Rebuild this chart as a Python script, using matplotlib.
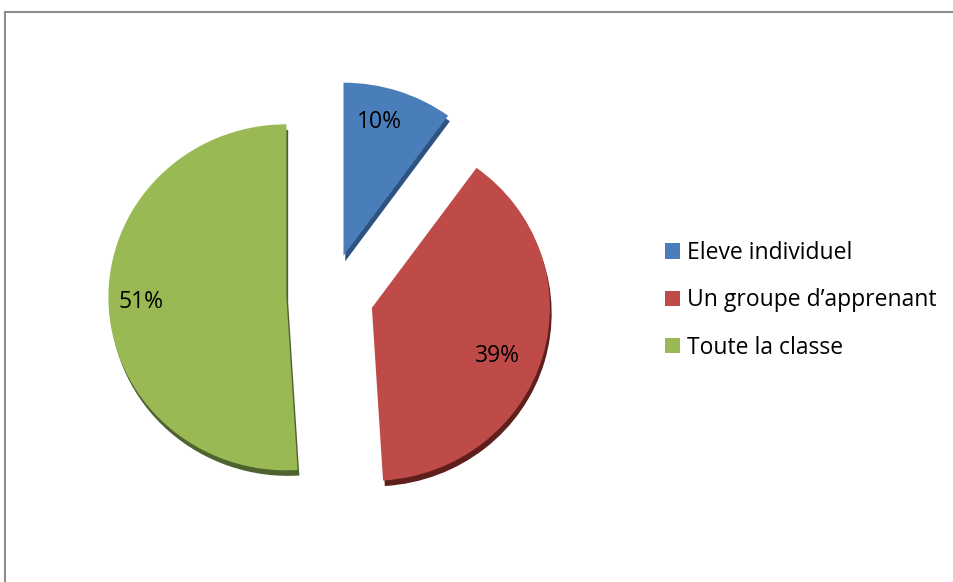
import numpy as np
import matplotlib
matplotlib.use("Agg")
import matplotlib.pyplot as plt
from matplotlib.patches import Rectangle

categories = ["Eleve individuel", "Un groupe d\u2019apprenant", "Toute la classe"]
values = [10, 39, 51]
colors = ["#4A7EBB", "#BE4B48", "#98B954"]
shadow_colors = ["#2E5282", "#5E1F1D", "#4F6330"]

W, H = 954, 582
fig = plt.figure(figsize=(W / 100, H / 100), dpi=100)
plt.rcParams["font.family"] = ["Open Sans", "DejaVu Sans"]

# outer chart-area frame (left and top edges visible)
fig.patches.append(Rectangle((5 / W, -0.1), 1.2, 1.1 - 12 / H, transform=fig.transFigure,
                             fill=False, edgecolor="#8C8C8C", linewidth=1.5))

# pie axes: centre ~(330, 296) px, radius ~178 px wide, 173 px tall
cx, cy, rx, ry = 330, 296, 178, 173
span = 1.5
left = (cx - span * rx) / W
bottom = (H - (cy + span * ry)) / H
ax = fig.add_axes([left, bottom, 2 * span * rx / W, 2 * span * ry / H])
ax.axis("off")

explode = [0.245] * len(values)

# thickness / shadow layer slightly below the pie
ax.pie(values, colors=shadow_colors, explode=explode, startangle=90, counterclock=False,
       center=(0.01, -0.032), wedgeprops=dict(linewidth=0), frame=False)

wedges, texts, autotexts = ax.pie(
    values, colors=colors, explode=explode, startangle=90, counterclock=False,
    autopct="%1.0f%%", pctdistance=0.8, wedgeprops=dict(linewidth=0),
    textprops=dict(fontsize=16.5, color="#000000"))
ax.set_aspect("auto")
ax.set_xlim(-span, span)
ax.set_ylim(-span, span)

# place each percentage label inside its own wedge
label_dist = [0.8, 0.76, 0.82]
label_turn = [3.5, -5.5, 0.0]
for w, t, d, turn in zip(wedges, autotexts, label_dist, label_turn):
    a = np.deg2rad((w.theta1 + w.theta2) / 2 + turn)
    x0, y0 = w.center
    t.set_position((x0 + d * np.cos(a), y0 + d * np.sin(a)))

fig.legend(wedges, categories, loc="upper left", bbox_to_anchor=(665 / W, 1 - 241 / H),
           frameon=False, fontsize=16.5, handlelength=0.65, handleheight=0.65,
           handletextpad=0.3, labelspacing=1.02, borderaxespad=0, borderpad=0)

fig.savefig("out.png", dpi=100, facecolor="white")
